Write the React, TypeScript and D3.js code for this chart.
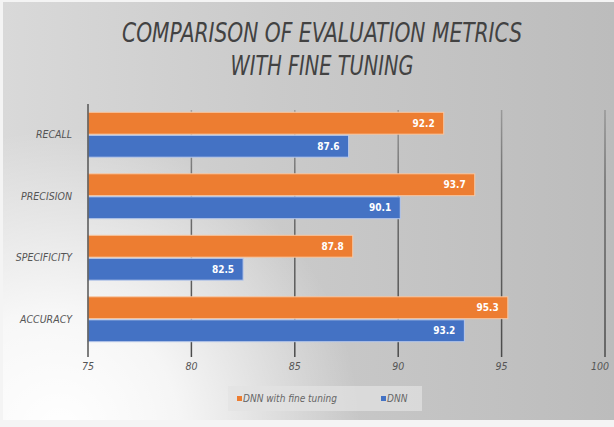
import * as d3 from "d3"

const categories = ["RECALL", "PRECISION", "SPECIFICITY", "ACCURACY"]
const seriesNames = ["DNN with fine tuning", "DNN"]
const fineTuned = [92.2, 93.7, 87.8, 95.3]
const dnn = [87.6, 90.1, 82.5, 93.2]
const xTicks = [75, 80, 85, 90, 95, 100]

const COLORS = ["#ed7d31", "#4472c4"]
const W = 614
const H = 427
const FONT = "'DejaVu Sans Condensed', 'Liberation Sans Narrow', 'DejaVu Sans', sans-serif"

export default function App() {
  const x = d3.scaleLinear().domain([75, 100]).range([88, 605])
  const y = d3.scaleBand<string>().domain(categories).range([104, 350]).paddingInner(0.27).paddingOuter(0.135)
  const inner = d3.scaleBand<number>().domain([0, 1]).range([0, y.bandwidth()]).paddingInner(0.05)
  const values = [fineTuned, dnn]

  return (
    <div>
      <style>{`body{margin:0}`}</style>
      <svg width={W} height={H} style={{ display: "block" }}>
        <defs>
          <linearGradient id="bg" x1="0" y1="0" x2="1" y2="0">
            <stop offset="0" stopColor="#d9d9d9" />
            <stop offset="0.45" stopColor="#cacaca" />
            <stop offset="1" stopColor="#bcbcbc" />
          </linearGradient>
          <radialGradient id="glow" cx="60" cy="430" r="300" gradientUnits="userSpaceOnUse">
            <stop offset="0" stopColor="#ffffff" stopOpacity="1" />
            <stop offset="0.4" stopColor="#ffffff" stopOpacity="0.8" />
            <stop offset="1" stopColor="#ffffff" stopOpacity="0" />
          </radialGradient>
          <linearGradient id="grid" x1="0" y1="104" x2="0" y2="357" gradientUnits="userSpaceOnUse">
            <stop offset="0" stopColor="#5a5a5a" stopOpacity="0.35" />
            <stop offset="0.3" stopColor="#5a5a5a" stopOpacity="0.8" />
            <stop offset="1" stopColor="#4a4a4a" stopOpacity="1" />
          </linearGradient>
        </defs>
        <rect width={W} height={H} fill="#f4f4f4" />
        <rect x={3} y={2} width={W - 3} height={418} fill="url(#bg)" />
        <rect x={3} y={2} width={W - 3} height={418} fill="url(#glow)" />

        <g fontFamily={FONT} fill="#424242" textAnchor="middle" fontSize={27} fontStyle="italic">
          <text x={322} y={42} textLength={400} lengthAdjust="spacingAndGlyphs">
            COMPARISON OF EVALUATION METRICS
          </text>
          <text x={322} y={75} textLength={183} lengthAdjust="spacingAndGlyphs">
            WITH FINE TUNING
          </text>
        </g>

        {/* gridlines, reaching below the plot as tick marks */}
        <g stroke="url(#grid)" strokeWidth={1.5}>
          {xTicks.filter((t) => t !== 75).map((t) => (
            <line key={t} x1={x(t)} x2={x(t)} y1={110} y2={357} />
          ))}
        </g>

        {categories.map((c, ci) => (
          <g key={c} transform={`translate(0,${y(c)})`}>
            {values.map((vals, si) => {
              const x0 = x(75)
              const x1 = x(vals[ci])
              const by = inner(si) ?? 0
              const bh = inner.bandwidth()
              return (
                <g key={si}>
                  <rect x={x0} y={by} width={x1 - x0} height={bh} fill={COLORS[si]}
                    stroke={si === 0 ? "#f7c8a4" : "#b9c9ea"} strokeWidth={1} />
                  <text x={x1 - 9} y={by + bh / 2} dy="0.35em" textAnchor="end" fill="#ffffff"
                    fontFamily={FONT} fontSize={10} fontWeight="bold">
                    {vals[ci].toFixed(1)}
                  </text>
                </g>
              )
            })}
            <text x={72} y={y.bandwidth() / 2} dy="0.35em" textAnchor="end" fill="#555"
              fontFamily={FONT} fontSize={10.5} fontStyle="italic">
              {c}
            </text>
          </g>
        ))}

        <line x1={x(75)} x2={x(75)} y1={104} y2={357} stroke="#555" strokeWidth={1.5} />

        <g fontFamily={FONT} fontSize={10.5} fill="#555" textAnchor="middle" fontStyle="italic">
          {xTicks.map((t) => (
            <text key={t} x={Math.min(x(t), 600)} y={370}>{t}</text>
          ))}
        </g>

        <g>
          <rect x={228} y={386} width={194} height={25} fill="#e2e2e2" fillOpacity={0.7} />
          {seriesNames.map((s, i) => {
            const lx = i === 0 ? 237 : 381
            return (
              <g key={s}>
                <rect x={lx} y={396} width={5} height={5} fill={COLORS[i]} />
                <text x={lx + 6} y={402} fontFamily={FONT} fontSize={10} fill="#666" fontStyle="italic">{s}</text>
              </g>
            )
          })}
        </g>
      </svg>
    </div>
  )
}
